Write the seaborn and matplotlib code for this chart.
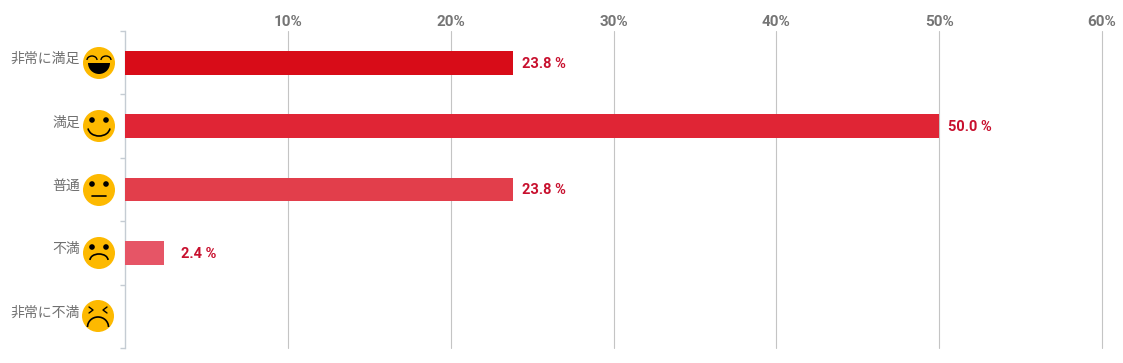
import numpy as np
import pandas as pd
import matplotlib.pyplot as plt
import seaborn as sns
from matplotlib.patches import Circle, Arc, Wedge

categorias = ['非常に満足', '満足', '普通', '不満', '非常に不満']
valores = [23.8, 50.0, 23.8, 2.4, 0.0]
cores = ['#d80c18', '#e02535', '#e23e4b', '#e65566', '#ec7080']
rostos = ['riso', 'feliz', 'neutro', 'triste', 'bravo']
ticks_x = [10, 20, 30, 40, 50, 60]

W, H = 1123, 363

sns.set_theme(style='white')
plt.rcParams['font.family'] = ['Noto Sans CJK JP', 'DejaVu Sans']

dados = pd.DataFrame({'categoria': categorias, 'valor': valores})

fig = plt.figure(figsize=(W / 100, H / 100), dpi=100)
ax = fig.add_axes([125 / W, 1 - 348 / H, 977 / W, 317 / H])

sns.barplot(data=dados, x='valor', y='categoria', hue='categoria', palette=cores,
            width=0.378, legend=False, saturation=1, linewidth=0, edgecolor='none',
            ax=ax, zorder=3)

ax.set_xlim(0, 60)
ax.set_ylim(4.5, -0.5)
ax.set_xlabel('')
ax.set_ylabel('')

# eixo x em cima, sem a marca de tick
ax.xaxis.tick_top()
ax.set_xticks(ticks_x)
ax.set_xticklabels([f'{t}%' for t in ticks_x], fontsize=11, fontweight='bold',
                   color='#757575', family='Roboto')
ax.tick_params(axis='x', length=0, pad=1.5)
ax.grid(axis='x', color='#c4c4c4', linewidth=0.8, zorder=0)
for g in ax.get_xgridlines():
    g.set_clip_on(False)

# ticks de y nas divisas das categorias
ax.set_yticks(np.arange(-0.5, 5, 1))
ax.set_yticklabels([])
ax.tick_params(axis='y', left=True, length=3.5, width=1, color='#c5ccd3')

for s in ['top', 'right', 'bottom']:
    ax.spines[s].set_visible(False)
ax.spines['left'].set_color('#c5ccd3')
ax.spines['left'].set_linewidth(1)

for i, (cat, v) in enumerate(zip(categorias, valores)):
    ax.annotate(cat, xy=(0, i), xycoords=('data', 'data'), xytext=(-32.5, 2.5),
                textcoords='offset points', ha='right', va='center',
                fontsize=10, color='#707070')
    if v > 0:
        # o rotulo da barra pequena fica mais afastado
        off = 12.5 if v < 5 else 6.5
        ax.annotate(f'{v:.1f} %', xy=(v, i), xytext=(off, -0.7), textcoords='offset points',
                    ha='left', va='center', fontsize=10.5, fontweight='bold',
                    color='#c8102e', family='Roboto')

# camada em pixels para os rostinhos
cam = fig.add_axes([0, 0, 1, 1])
cam.set_xlim(0, W)
cam.set_ylim(H, 0)
cam.axis('off')
cam.patch.set_alpha(0)


def rosto(cx, cy, tipo):
    cam.add_patch(Circle((cx, cy), 16, color='#fdb900', lw=0))
    if tipo in ('feliz', 'neutro', 'triste'):
        for dx in (-7, 7):
            cam.add_patch(Circle((cx + dx, cy - 6), 2.8, color='black', lw=0))
    if tipo == 'riso':
        for dx in (-7, 7):
            cam.add_patch(Arc((cx + dx, cy - 3), 10, 8, theta1=180, theta2=360, color='black', lw=1))
        cam.add_patch(Wedge((cx, cy), 11, 0, 180, color='black', lw=0))
    elif tipo == 'feliz':
        cam.add_patch(Arc((cx, cy + 1.5), 22, 17, theta1=5, theta2=175, color='black', lw=1.2))
    elif tipo == 'neutro':
        cam.plot([cx - 7, cx + 7], [cy + 5.5, cy + 5.5], color='black', lw=1.2)
    elif tipo == 'triste':
        cam.add_patch(Arc((cx, cy + 7), 18, 12, theta1=180, theta2=360, color='black', lw=1.2))
    elif tipo == 'bravo':
        cam.plot([cx - 9, cx - 5, cx - 9], [cy - 9, cy - 6, cy - 3], color='black', lw=1)
        cam.plot([cx + 9, cx + 5, cx + 9], [cy - 9, cy - 6, cy - 3], color='black', lw=1)
        cam.add_patch(Arc((cx, cy + 11), 21, 20, theta1=180, theta2=360, color='black', lw=1.2))


centros = [(99, 63), (99, 126), (99, 190), (99, 253), (98, 316)]
for (cx, cy), t in zip(centros, rostos):
    rosto(cx, cy, t)

fig.savefig('out.png', dpi=100)
